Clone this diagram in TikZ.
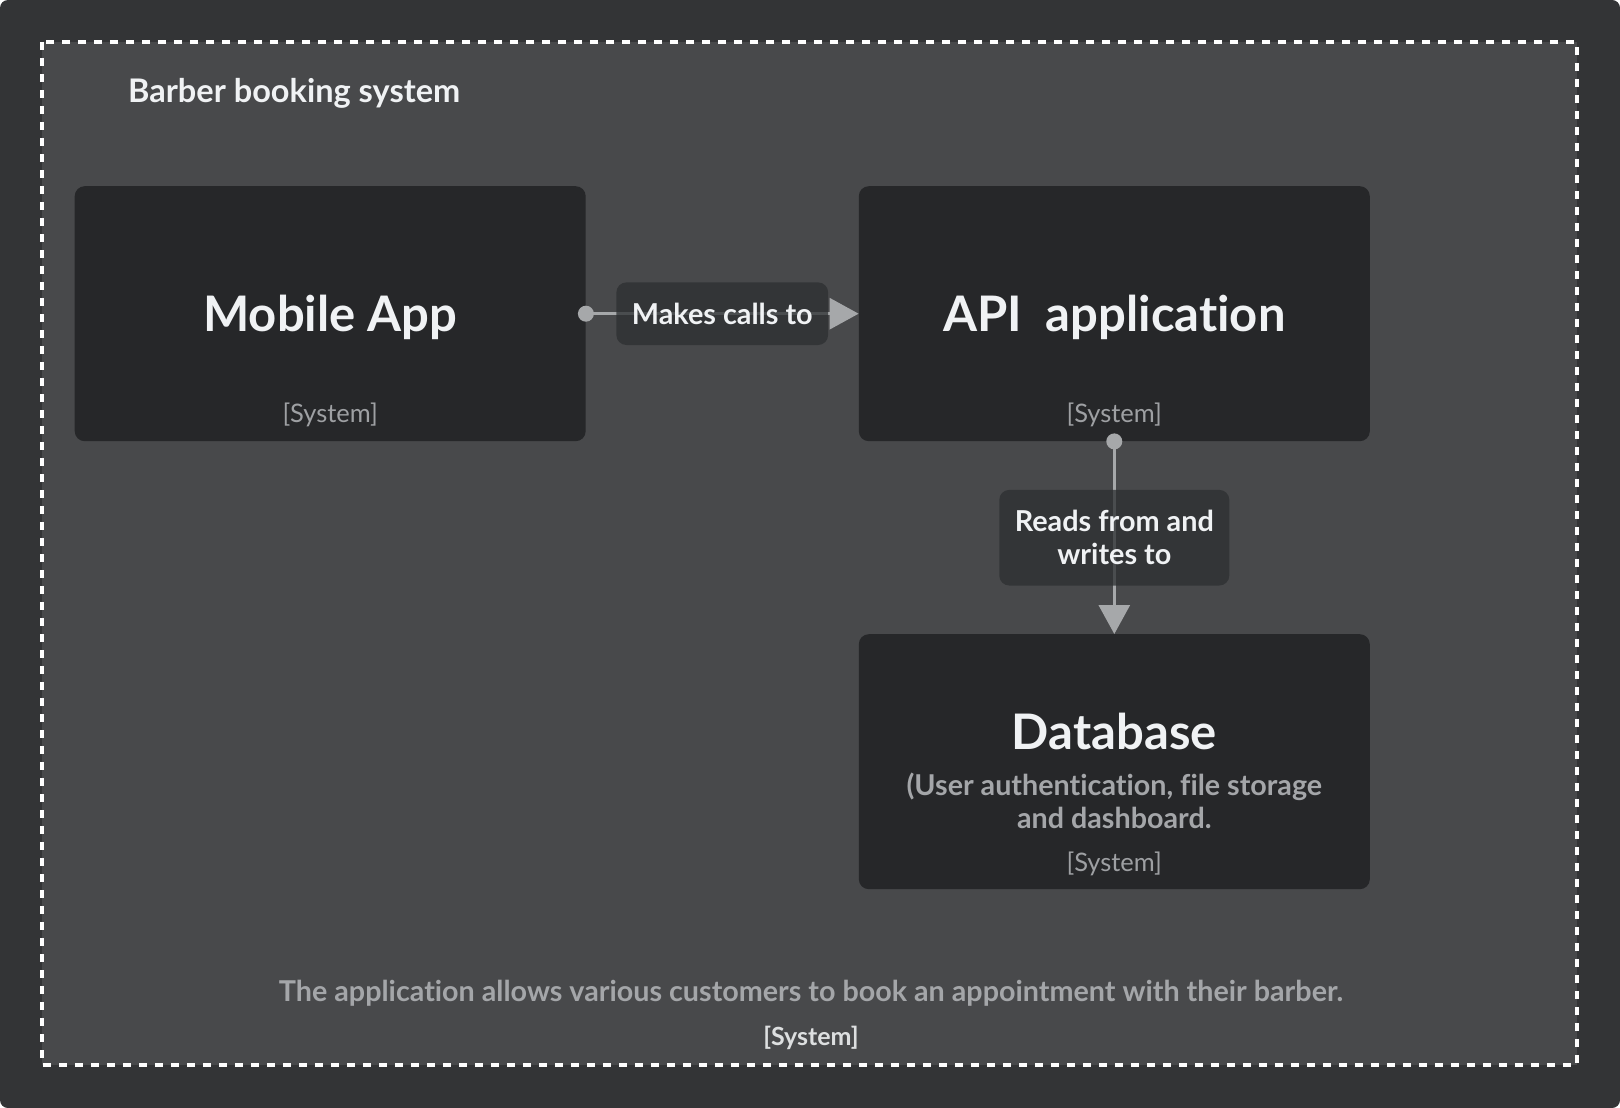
\documentclass[tikz,border=0pt]{standalone}
\usepackage{fontspec}
\setmainfont{Lato}[Ligatures=NoCommon]
\usepackage{tikz}
\usetikzlibrary{positioning}
\usetikzlibrary{arrows.meta}

\definecolor{pagebg}{HTML}{333436}
\definecolor{sysbg}{HTML}{48494B}
\definecolor{boxbg}{HTML}{262729}
\definecolor{lblbg}{HTML}{2C2F31}
\definecolor{wire}{HTML}{A6A8AA}
\definecolor{txtw}{HTML}{F0F2F4}
\definecolor{txtg}{HTML}{9EA0A3}
\definecolor{descg}{HTML}{A4A6A9}

\begin{document}
\begin{tikzpicture}
  [x=1pt, y=-1pt,
  sysbox/.style={rectangle,rounded corners=10pt,fill=boxbg,draw=none,minimum width=511pt,minimum height=255pt,inner sep=0pt},
  title/.style={anchor=base,text=txtw,font=\fontsize{49}{58}\selectfont\bfseries},
  kind/.style={anchor=base,text=txtg,font=\fontsize{25.5}{30}\selectfont},
  desc/.style={anchor=base,text=descg,align=center,font=\fontsize{28.7}{33.4}\selectfont\bfseries},
  dot/.style={circle,fill=wire,draw=none,inner sep=0pt,minimum size=16pt},
  rel/.style={wire,line width=3pt,arrows={-Triangle[length=29pt,width=31pt]}},
  lbl/.style={rectangle,rounded corners=10pt,fill=lblbg,fill opacity=0.75,text opacity=1,text=txtw,inner xsep=15.5pt,inner ysep=20.5pt,align=center,font=\fontsize{28.8}{33}\selectfont\bfseries}]
  \useasboundingbox (0,0) rectangle (1620,1108);
  \fill[white] (0,0) rectangle (1620,1108);
  \fill[pagebg,rounded corners=8pt] (0,0) rectangle (1620,1108);

  % system boundary
  \draw[white,line width=3.5pt,dash pattern=on 8pt off 8pt,fill=sysbg] (42,42) rectangle (1577,1065);
  \node[anchor=base west,inner sep=0pt,text=txtw,font=\fontsize{32.5}{38}\selectfont\bfseries] (sysname) at (128,102.5) {Barber booking system};

  \node[sysbox] (app) at (330.2,313.7) {};
  \node[sysbox] (api) at (1114.3,313.7) {};
  \node[sysbox] (db) at (1114.3,761.7) {};

  \node[title] (apptitle) at (330.2,331) {Mobile App};
  \node[kind] (appkind) at (330.2,422.7) {[System]};

  \node[title] (apititle) at (1114.3,331) {API\ \ application};
  \node[kind] (apikind) at (1114.3,422.7) {[System]};

  \node[title] (dbtitle) at (1114.3,749.3) {Database};
  \node[desc] (dbdesc) at (1114.3,828.7) {(User authentication, file storage\\and dashboard.};
  \node[kind] (dbkind) at (1114.3,871) {[System]};

  \node[dot] (appdot) at (app.east) {};
  \node[dot] (apidot) at (api.south) {};

  \draw[rel] (appdot.center) -- (api.west) node[lbl,midway] (calls) {Makes calls to};
  \draw[rel] (apidot.center) -- (db.north) node[lbl,midway] (reads) {Reads from and\\writes to};

  \node[desc] (sysdesc) at (811,1001) {The application allows various customers to book an appointment with their barber.};
  \node[anchor=base,text=txtw!92!black,font=\fontsize{25}{30}\selectfont\bfseries] (syskind) at (811,1045) {[System]};
\end{tikzpicture}
\end{document}
